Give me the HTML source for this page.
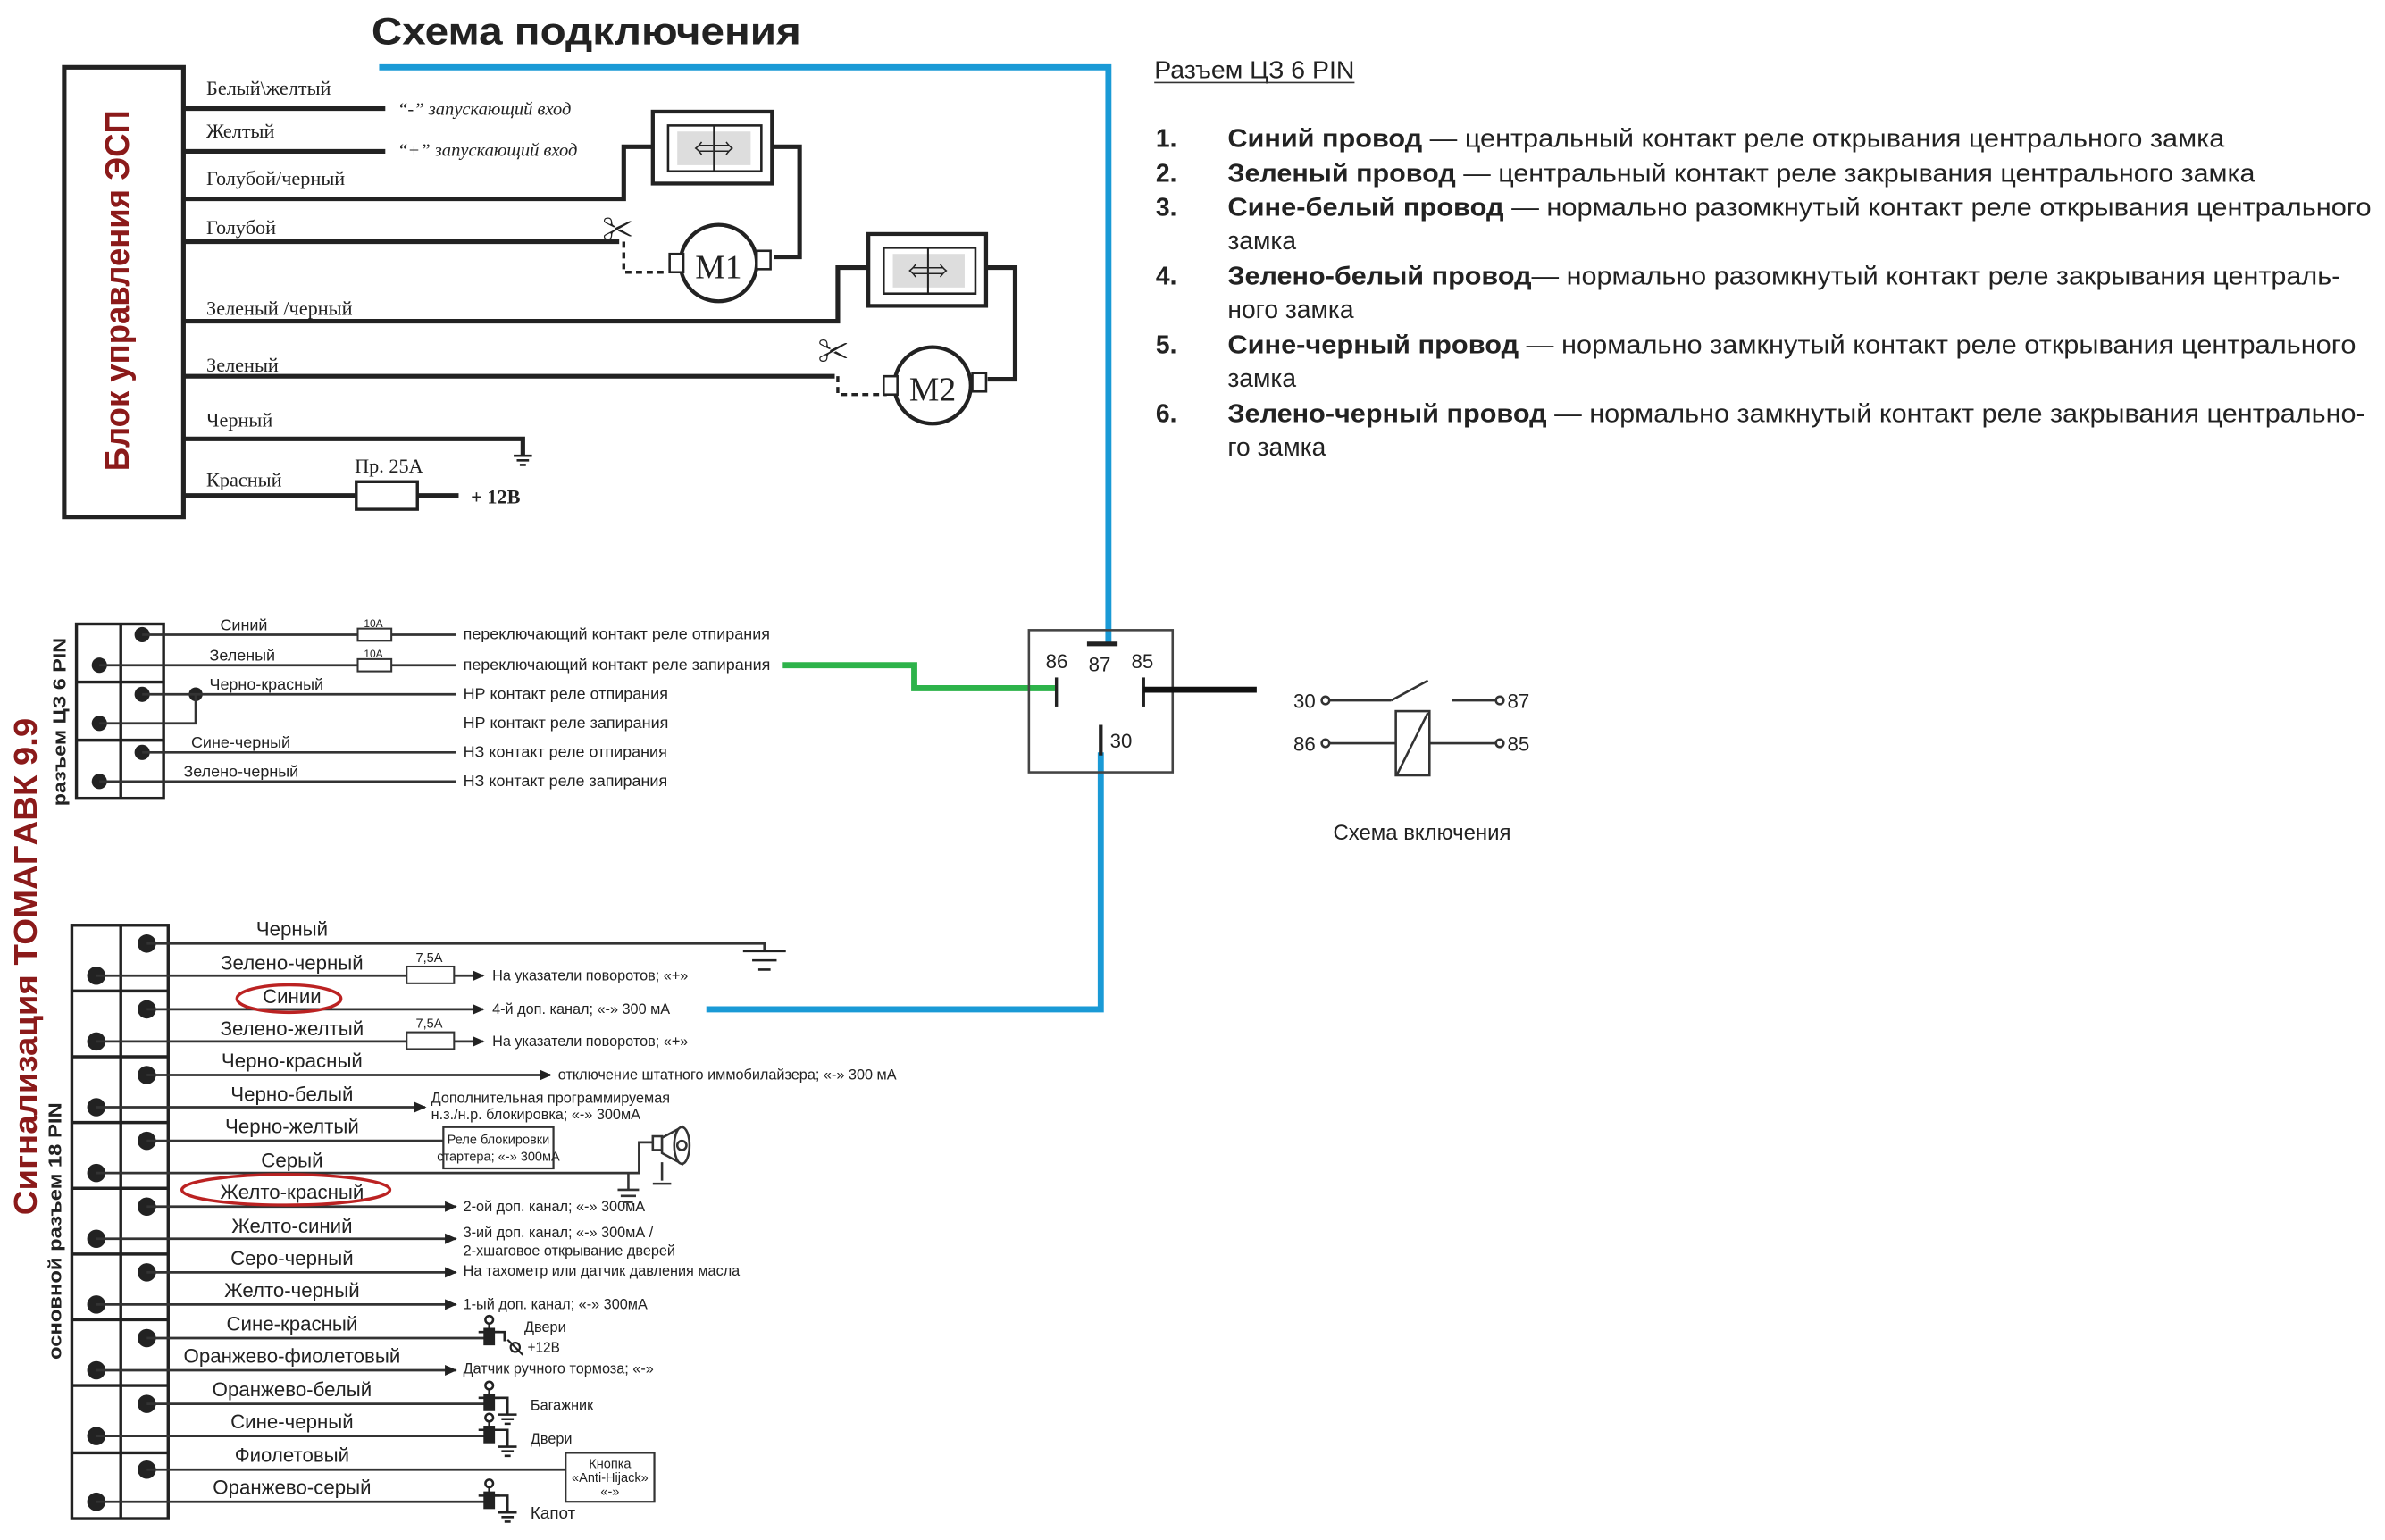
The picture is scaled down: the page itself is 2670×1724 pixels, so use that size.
<!DOCTYPE html>
<html><head><meta charset="utf-8"><style>
html,body{margin:0;padding:0;background:#fff;}
svg{display:block}
text{font-family:"Liberation Sans","Noto Sans CJK SC",sans-serif;fill:#222}
.s{font-family:"Liberation Serif","Noto Serif CJK SC",serif}
.w{stroke:#222;stroke-width:3;fill:none}
.t{stroke:#333;stroke-width:1.6;fill:none}
</style></head><body>
<svg width="2670" height="1724" viewBox="0 0 1560 1007" preserveAspectRatio="none" xmlns="http://www.w3.org/2000/svg">
<defs><marker id="a" markerWidth="8" markerHeight="8" refX="7" refY="4" orient="auto" markerUnits="userSpaceOnUse"><path d="M0,0.5 L8,4 L0,7.5z" fill="#222"/></marker></defs>
<text x="243" y="29" font-size="25" font-weight="bold" textLength="281" lengthAdjust="spacingAndGlyphs">Схема подключения</text>
<polyline points="248,44 725,44 725,420" fill="none" stroke="#1a9ad6" stroke-width="4"/>
<polyline points="720,492 720,660 462,660" fill="none" stroke="#1a9ad6" stroke-width="4"/>
<polyline points="512,435 598,435 598,450 690,450" fill="none" stroke="#2db34a" stroke-width="4"/>
<rect x="42" y="44" width="78" height="294" fill="none" stroke="#222" stroke-width="3"/>
<text transform="translate(84,190) rotate(-90)" text-anchor="middle" font-size="22" font-weight="bold" style="fill:#8b1a1a" textLength="236" lengthAdjust="spacingAndGlyphs">Блок управления ЭСП</text>
<g class="s" font-size="13">
<text class="s" x="135" y="62">Белый\желтый</text>
<text class="s" x="135" y="90">Желтый</text>
<text class="s" x="135" y="121">Голубой/черный</text>
<text class="s" x="135" y="153">Голубой</text>
<text class="s" x="135" y="206">Зеленый /черный</text>
<text class="s" x="135" y="243">Зеленый</text>
<text class="s" x="135" y="279">Черный</text>
<text class="s" x="135" y="318">Красный</text>
<text class="s" x="232" y="309">Пр. 25А</text>
<text class="s" x="308" y="329" font-weight="bold">+ 12В</text>
<text class="s" x="260" y="75" font-style="italic" font-size="12">“-” запускающий вход</text>
<text class="s" x="260" y="102" font-style="italic" font-size="12">“+” запускающий вход</text>
</g>
<g class="w">
<line x1="120" y1="71" x2="252" y2="71"/>
<line x1="120" y1="99" x2="252" y2="99"/>
<polyline points="120,130 408,130 408,96 427,96"/>
<polyline points="505,96 523,96 523,168 506,168"/>
<line x1="120" y1="158" x2="405" y2="158"/>
<polyline points="408,158 408,178 437,178" stroke-dasharray="4,3" stroke-width="2"/>
<polyline points="120,210 548,210 548,175 568,175"/>
<polyline points="645,175 664,175 664,248 646,248"/>
<line x1="120" y1="246" x2="546" y2="246"/>
<polyline points="548,246 548,258 580,258" stroke-dasharray="4,3" stroke-width="2"/>
<polyline points="120,287 342,287 342,298"/>
<line x1="120" y1="324" x2="233" y2="324"/>
<line x1="273" y1="324" x2="300" y2="324"/>
</g>
<path d="M336,298h12M338,301h8M340,304h4" stroke="#222" stroke-width="1.5"/>
<rect x="233" y="315" width="40" height="18" fill="#fff" stroke="#222" stroke-width="2"/>
<rect x="427" y="73" width="78" height="47" fill="#fff" stroke="#222" stroke-width="2.5"/>
<rect x="437" y="82" width="61" height="30" fill="#fff" stroke="#222" stroke-width="1.5"/>
<rect x="443" y="86" width="48" height="22" fill="#ddd"/><line x1="467" y1="82" x2="467" y2="112" stroke="#222" stroke-width="1.2"/>
<text x="467" y="102" text-anchor="middle" font-size="13">⇐⇒</text>
<circle cx="470" cy="172" r="25" fill="#fff" stroke="#222" stroke-width="2.5"/>
<rect x="438" y="166" width="9" height="12" fill="#fff" stroke="#222" stroke-width="1.5"/>
<rect x="495" y="164" width="9" height="12" fill="#fff" stroke="#222" stroke-width="1.5"/>
<text class="s" x="470" y="182" text-anchor="middle" font-size="22">M1</text>
<text x="404" y="157" text-anchor="middle" font-size="20">✂</text>
<rect x="568" y="153" width="77" height="47" fill="#fff" stroke="#222" stroke-width="2.5"/>
<rect x="578" y="162" width="60" height="30" fill="#fff" stroke="#222" stroke-width="1.5"/>
<rect x="584" y="166" width="47" height="22" fill="#ddd"/><line x1="607" y1="162" x2="607" y2="192" stroke="#222" stroke-width="1.2"/>
<text x="607" y="182" text-anchor="middle" font-size="13">⇐⇒</text>
<circle cx="610" cy="252" r="25" fill="#fff" stroke="#222" stroke-width="2.5"/>
<rect x="578" y="246" width="9" height="12" fill="#fff" stroke="#222" stroke-width="1.5"/>
<rect x="636" y="244" width="9" height="12" fill="#fff" stroke="#222" stroke-width="1.5"/>
<text class="s" x="610" y="262" text-anchor="middle" font-size="22">M2</text>
<text x="545" y="237" text-anchor="middle" font-size="20">✂</text>
<text x="755" y="51" font-size="16" textLength="131" lengthAdjust="spacingAndGlyphs">Разъем ЦЗ 6 PIN</text>
<line x1="755" y1="54" x2="886" y2="54" stroke="#333" stroke-width="1"/>
<g font-size="16.5">
<text x="756" y="96" font-weight="bold">1.</text>
<text x="803" y="96" textLength="652" lengthAdjust="spacingAndGlyphs"><tspan font-weight="bold">Синий провод</tspan> — центральный контакт реле открывания центрального замка</text>
<text x="756" y="119" font-weight="bold">2.</text>
<text x="803" y="119" textLength="672" lengthAdjust="spacingAndGlyphs"><tspan font-weight="bold">Зеленый провод</tspan> — центральный контакт реле закрывания центрального замка</text>
<text x="756" y="141" font-weight="bold">3.</text>
<text x="803" y="141" textLength="748" lengthAdjust="spacingAndGlyphs"><tspan font-weight="bold">Сине-белый провод</tspan> — нормально разомкнутый контакт реле открывания центрального</text>
<text x="803" y="163">замка</text>
<text x="756" y="186" font-weight="bold">4.</text>
<text x="803" y="186" textLength="728" lengthAdjust="spacingAndGlyphs"><tspan font-weight="bold">Зелено-белый провод</tspan>— нормально разомкнутый контакт реле закрывания централь-</text>
<text x="803" y="208">ного замка</text>
<text x="756" y="231" font-weight="bold">5.</text>
<text x="803" y="231" textLength="738" lengthAdjust="spacingAndGlyphs"><tspan font-weight="bold">Сине-черный провод</tspan> — нормально замкнутый контакт реле открывания центрального</text>
<text x="803" y="253">замка</text>
<text x="756" y="276" font-weight="bold">6.</text>
<text x="803" y="276" textLength="744" lengthAdjust="spacingAndGlyphs"><tspan font-weight="bold">Зелено-черный провод</tspan> — нормально замкнутый контакт реле закрывания центрально-</text>
<text x="803" y="298">го замка</text>
</g>
<text transform="translate(24,632) rotate(-90)" text-anchor="middle" font-size="21" font-weight="bold" style="fill:#8b1a1a" textLength="325" lengthAdjust="spacingAndGlyphs">Сигнализация   TOMAГAВК 9.9</text>
<text transform="translate(43,472) rotate(-90)" text-anchor="middle" font-size="12" font-weight="bold" textLength="110" lengthAdjust="spacingAndGlyphs">разъем ЦЗ 6 PIN</text>
<text transform="translate(40,805) rotate(-90)" text-anchor="middle" font-size="12" font-weight="bold" textLength="168" lengthAdjust="spacingAndGlyphs">основной разъем 18 PIN</text>
<g stroke="#222" stroke-width="2" fill="none">
<rect x="50" y="408" width="57" height="114"/><line x1="79" y1="408" x2="79" y2="522"/>
<line x1="50" y1="446" x2="107" y2="446"/><line x1="50" y1="484" x2="107" y2="484"/>
</g>
<g fill="#222"><circle cx="93" cy="415" r="5"/><circle cx="65" cy="435" r="5"/><circle cx="93" cy="454" r="5"/><circle cx="65" cy="473" r="5"/><circle cx="93" cy="492" r="5"/><circle cx="65" cy="511" r="5"/><circle cx="128" cy="454" r="4.5"/></g>
<g class="t">
<line x1="93" y1="415" x2="298" y2="415"/><line x1="65" y1="435" x2="298" y2="435"/>
<line x1="93" y1="454" x2="298" y2="454"/><polyline points="128,454 128,473 65,473"/>
<line x1="93" y1="492" x2="298" y2="492"/><line x1="65" y1="511" x2="298" y2="511"/>
</g>
<rect x="234" y="411" width="22" height="8" fill="#fff" stroke="#333" stroke-width="1.2"/>
<rect x="234" y="431" width="22" height="8" fill="#fff" stroke="#333" stroke-width="1.2"/>
<g font-size="10.5">
<text x="144" y="412">Синий</text><text x="137" y="432">Зеленый</text><text x="137" y="451">Черно-красный</text>
<text x="125" y="489">Сине-черный</text><text x="120" y="508">Зелено-черный</text>
<text x="238" y="410" font-size="7">10А</text><text x="238" y="430" font-size="7">10А</text>
<text x="303" y="418">переключающий контакт реле отпирания</text>
<text x="303" y="438">переключающий контакт реле запирания</text>
<text x="303" y="457">НР контакт реле отпирания</text>
<text x="303" y="476">НР контакт реле запирания</text>
<text x="303" y="495">НЗ контакт реле отпирания</text>
<text x="303" y="514">НЗ контакт реле запирания</text>
</g>
<rect x="673" y="412" width="94" height="93" fill="none" stroke="#444" stroke-width="1.5"/>
<line x1="711" y1="421" x2="731" y2="421" stroke="#222" stroke-width="3"/>
<g font-size="13"><text x="684" y="437">86</text><text x="712" y="439">87</text><text x="740" y="437">85</text><text x="726" y="489">30</text></g>
<line x1="691" y1="443" x2="691" y2="462" stroke="#222" stroke-width="2"/>
<line x1="748" y1="443" x2="748" y2="462" stroke="#222" stroke-width="2"/>
<line x1="748" y1="451" x2="822" y2="451" stroke="#111" stroke-width="4"/>
<line x1="720" y1="474" x2="720" y2="494" stroke="#222" stroke-width="2.5"/>
<g stroke="#333" stroke-width="1.5" fill="#fff">
<line x1="869" y1="458" x2="910" y2="458"/><line x1="910" y1="458" x2="934" y2="445"/>
<line x1="950" y1="458" x2="979" y2="458"/>
<line x1="869" y1="486" x2="913" y2="486"/><line x1="935" y1="486" x2="979" y2="486"/>
<rect x="913" y="465" width="22" height="42"/><line x1="914" y1="506" x2="934" y2="466"/>
<circle cx="867" cy="458" r="2.5"/><circle cx="981" cy="458" r="2.5"/><circle cx="867" cy="486" r="2.5"/><circle cx="981" cy="486" r="2.5"/>
</g>
<g font-size="13"><text x="846" y="463">30</text><text x="986" y="463">87</text><text x="846" y="491">86</text><text x="986" y="491">85</text></g>
<text x="872" y="549" font-size="14">Схема включения</text>
<g stroke="#222" stroke-width="2" fill="none">
<rect x="47" y="605" width="63" height="388"/><line x1="79" y1="605" x2="79" y2="993"/>
<line x1="47" y1="648" x2="110" y2="648"/><line x1="47" y1="691" x2="110" y2="691"/><line x1="47" y1="734" x2="110" y2="734"/><line x1="47" y1="777" x2="110" y2="777"/><line x1="47" y1="820" x2="110" y2="820"/><line x1="47" y1="863" x2="110" y2="863"/><line x1="47" y1="906" x2="110" y2="906"/><line x1="47" y1="950" x2="110" y2="950"/>
</g>
<g fill="#222">
<circle cx="96" cy="617" r="6"/><circle cx="63" cy="638" r="6"/><circle cx="96" cy="660" r="6"/><circle cx="63" cy="681" r="6"/><circle cx="96" cy="703" r="6"/><circle cx="63" cy="724" r="6"/><circle cx="96" cy="746" r="6"/><circle cx="63" cy="767" r="6"/><circle cx="96" cy="789" r="6"/><circle cx="63" cy="810" r="6"/><circle cx="96" cy="832" r="6"/><circle cx="63" cy="853" r="6"/><circle cx="96" cy="875" r="6"/><circle cx="63" cy="896" r="6"/><circle cx="96" cy="918" r="6"/><circle cx="63" cy="939" r="6"/><circle cx="96" cy="961" r="6"/><circle cx="63" cy="982" r="6"/>
</g>
<g class="t">
<polyline points="96,617 500,617 500,622"/>
<line x1="63" y1="638" x2="316" y2="638" marker-end="url(#a)"/>
<line x1="96" y1="660" x2="316" y2="660" marker-end="url(#a)"/>
<line x1="63" y1="681" x2="316" y2="681" marker-end="url(#a)"/>
<line x1="96" y1="703" x2="360" y2="703" marker-end="url(#a)"/>
<line x1="63" y1="724" x2="278" y2="724" marker-end="url(#a)"/>
<line x1="96" y1="746" x2="290" y2="746"/>
<polyline points="63,767 418,767 418,747 428,747"/>
<line x1="96" y1="789" x2="298" y2="789" marker-end="url(#a)"/>
<line x1="63" y1="810" x2="298" y2="810" marker-end="url(#a)"/>
<line x1="96" y1="832" x2="298" y2="832" marker-end="url(#a)"/>
<line x1="63" y1="853" x2="298" y2="853" marker-end="url(#a)"/>
<line x1="96" y1="875" x2="320" y2="875"/>
<line x1="63" y1="896" x2="298" y2="896" marker-end="url(#a)"/>
<line x1="96" y1="918" x2="320" y2="918"/>
<line x1="63" y1="939" x2="320" y2="939"/>
<line x1="96" y1="961" x2="370" y2="961"/>
<line x1="63" y1="982" x2="320" y2="982"/>
</g>
<path d="M486,622h28M492,628h16M496,634h8" stroke="#222" stroke-width="1.5"/>
<rect x="266" y="632" width="31" height="11" fill="#fff" stroke="#333" stroke-width="1.2"/>
<rect x="266" y="675" width="31" height="11" fill="#fff" stroke="#333" stroke-width="1.2"/>
<rect x="290" y="737" width="72" height="27" fill="#fff" stroke="#333" stroke-width="1.3"/>
<rect x="370" y="950" width="58" height="32" fill="#fff" stroke="#333" stroke-width="1.3"/>
<g stroke="#333" stroke-width="1.5" fill="#fff">
<polyline points="411,767 411,778"/><path d="M404,778h14M406,782h10M408,786h6"/>
<rect x="427" y="743" width="6" height="9"/><path d="M433,744 L446,737 L446,761 L433,754z"/><ellipse cx="446" cy="749" rx="5" ry="12"/><circle cx="446" cy="749" r="3"/><path d="M433,760 L433,772 M427,774 h12"/>
</g>
<g stroke="#222" stroke-width="1.5" fill="#222">
<g transform="translate(320,875)"><rect x="-3" y="-6" width="6" height="10"/><line x1="-7" y1="-4" x2="7" y2="-4"/><circle cx="0" cy="-12" r="2.5" fill="#fff"/><line x1="0" y1="-10" x2="0" y2="-6"/><polyline points="3,-4 10,-4 10,2" fill="none"/></g>
<g transform="translate(320,918)"><rect x="-3" y="-6" width="6" height="10"/><line x1="-7" y1="-4" x2="7" y2="-4"/><circle cx="0" cy="-12" r="2.5" fill="#fff"/><line x1="0" y1="-10" x2="0" y2="-6"/><polyline points="3,-4 12,-4 12,7" fill="none"/><path d="M6,7h12M8,10h8M10,13h4" fill="none"/></g>
<g transform="translate(320,939)"><rect x="-3" y="-6" width="6" height="10"/><line x1="-7" y1="-4" x2="7" y2="-4"/><circle cx="0" cy="-12" r="2.5" fill="#fff"/><line x1="0" y1="-10" x2="0" y2="-6"/><polyline points="3,-4 12,-4 12,7" fill="none"/><path d="M6,7h12M8,10h8M10,13h4" fill="none"/></g>
<g transform="translate(320,982)"><rect x="-3" y="-6" width="6" height="10"/><line x1="-7" y1="-4" x2="7" y2="-4"/><circle cx="0" cy="-12" r="2.5" fill="#fff"/><line x1="0" y1="-10" x2="0" y2="-6"/><polyline points="3,-4 12,-4 12,7" fill="none"/><path d="M6,7h12M8,10h8M10,13h4" fill="none"/></g>
</g>
<circle cx="337" cy="881" r="3" fill="none" stroke="#222" stroke-width="1.3"/><line x1="332" y1="876" x2="342" y2="886" stroke="#222" stroke-width="1.3"/>
<g font-size="13" text-anchor="middle">
<text x="191" y="612">Черный</text><text x="191" y="634">Зелено-черный</text><text x="191" y="656">Синии</text><text x="191" y="677">Зелено-желтый</text><text x="191" y="698">Черно-красный</text><text x="191" y="720">Черно-белый</text><text x="191" y="741">Черно-желтый</text><text x="191" y="763">Серый</text><text x="191" y="784">Желто-красный</text><text x="191" y="806">Желто-синий</text><text x="191" y="827">Серо-черный</text><text x="191" y="848">Желто-черный</text><text x="191" y="870">Сине-красный</text><text x="191" y="891">Оранжево-фиолетовый</text><text x="191" y="913">Оранжево-белый</text><text x="191" y="934">Сине-черный</text><text x="191" y="956">Фиолетовый</text><text x="191" y="977">Оранжево-серый</text>
</g>
<ellipse cx="189" cy="653" rx="34" ry="9" fill="none" stroke="#b22" stroke-width="2"/>
<ellipse cx="187" cy="778" rx="68" ry="10" fill="none" stroke="#b22" stroke-width="2"/>
<g font-size="9.5">
<text x="272" y="629" font-size="8.5">7,5А</text><text x="272" y="672" font-size="8.5">7,5А</text>
<text x="322" y="641">На указатели поворотов; «+»</text>
<text x="322" y="663">4-й доп. канал; «-» 300 мА</text>
<text x="322" y="684">На указатели поворотов; «+»</text>
<text x="365" y="706">отключение штатного иммобилайзера; «-» 300 мА</text>
<text x="282" y="721">Дополнительная программируемая</text>
<text x="282" y="732">н.з./н.р. блокировка; «-» 300мА</text>
<text x="326" y="748" text-anchor="middle" font-size="8.5">Реле блокировки</text>
<text x="326" y="759" text-anchor="middle" font-size="8.5">стартера; «-» 300мА</text>
<text x="303" y="792">2-ой доп. канал; «-» 300мА</text>
<text x="303" y="809">3-ий доп. канал; «-» 300мА /</text>
<text x="303" y="821">2-хшаговое открывание дверей</text>
<text x="303" y="834">На тахометр или датчик давления масла</text>
<text x="303" y="856">1-ый доп. канал; «-» 300мА</text>
<text x="343" y="871">Двери</text><text x="345" y="884" font-size="9">+12В</text>
<text x="303" y="898">Датчик ручного тормоза; «-»</text>
<text x="347" y="922">Багажник</text>
<text x="347" y="944">Двери</text>
<text x="399" y="960" text-anchor="middle" font-size="8.5">Кнопка</text>
<text x="399" y="969" text-anchor="middle" font-size="8.5">«Anti-Hijack»</text>
<text x="399" y="978" text-anchor="middle" font-size="8.5">«-»</text>
<text x="347" y="993" font-size="11">Капот</text>
</g>
</svg>
</body></html>
